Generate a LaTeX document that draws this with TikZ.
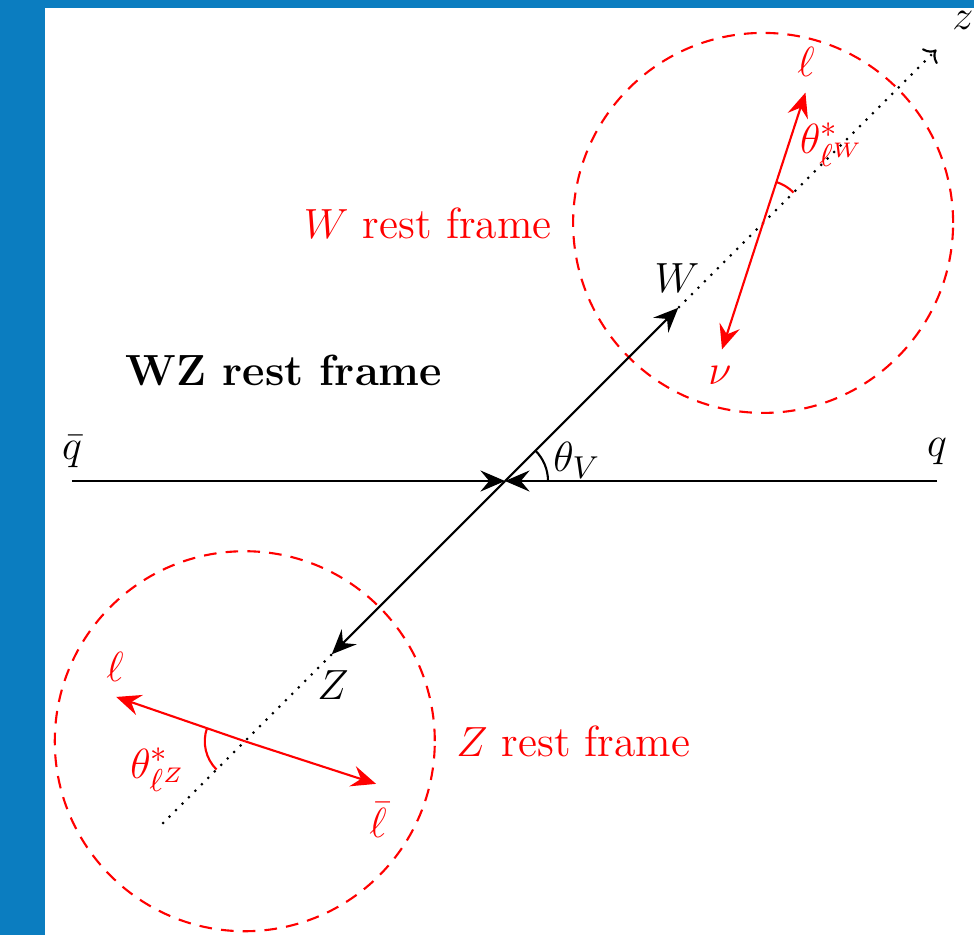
\documentclass[tikz,border=0pt]{standalone}
\usepackage{xcolor}
\definecolor{barblue}{HTML}{0B7DC0}
\definecolor{decayred}{HTML}{FF0000}
\usetikzlibrary{arrows.meta,positioning,calc}

\begin{document}
\begin{tikzpicture}[
  font=\fontsize{12.4}{15}\selectfont,
  beam/.style={-{Stealth[length=7pt,width=6pt,inset=2.5pt]}, black, semithick},
  zaxis/.style={->, black, semithick, dotted},
  restframe/.style={draw=decayred, semithick, dash pattern=on 3.6pt off 2.6pt, circle,
                    minimum size=3.8cm, inner sep=0pt},
  decay/.style={-{Stealth[length=7pt,width=6pt,inset=2.5pt]}, decayred, semithick},
  anglearc/.style={semithick},
  redlabel/.style={text=decayred}
]
  \useasboundingbox (-5.05,-4.54) rectangle (4.69,4.81);
  \fill[barblue] (-5.05,-4.54) rectangle (-4.60,4.81);
  \fill[barblue] (-5.05,4.73) rectangle (4.69,4.81);

  \coordinate (O)    at (0,0);
  \coordinate (qb)   at (-4.33,0);
  \coordinate (q)    at (4.32,0);
  \coordinate (Wtip) at (45:2.45);
  \coordinate (zend) at (45:6.1);
  \coordinate (Ztip) at (225:2.45);
  \coordinate (Zend) at (225:4.88);
  \coordinate (Wc)   at (45:3.65);
  \coordinate (Zc)   at (225:3.68);

  \node[restframe] (Wframe) at (Wc) {};
  \node[restframe] (Zframe) at (Zc) {};

  \draw[beam] (qb) -- (O);
  \draw[beam] (q) -- (O);
  \draw[beam] (O) -- (Wtip);
  \draw[beam] (O) -- (Ztip);
  \draw[zaxis] (Wtip) -- (zend);
  \draw[black, semithick, dotted] (Ztip) -- (Zend);
  \draw[anglearc] ([shift={(0:0.43)}]O) arc[start angle=0, end angle=45, radius=0.43];

  \coordinate (lW)  at ($(Wc)+(72:1.37)$);
  \coordinate (nuW) at ($(Wc)+(252:1.33)$);
  \coordinate (lZ)  at ($(Zc)+(161:1.36)$);
  \coordinate (lbZ) at ($(Zc)+(-18:1.38)$);
  \draw[decay] (Wc) -- (lW);
  \draw[decay] (Wc) -- (nuW);
  \draw[decay] (Zc) -- (lZ);
  \draw[decay] (Zc) -- (lbZ);
  \draw[decayred, semithick] ([shift={(45:0.43)}]Wc) arc[start angle=45, end angle=72, radius=0.43];
  \draw[decayred, semithick] ([shift={(161:0.4)}]Zc) arc[start angle=161, end angle=225, radius=0.4];

  \node (qbarlab) at (-4.33,0.29) {$\bar{q}$};
  \node (qlab)    at (4.32,0.29)  {$q$};
  \node (thV)     at (0.72,0.21)  {$\theta_V$};
  \node (Wlab)    at (1.72,2.03)  {$W$};
  \node (Zlab)    at (-1.72,-2.04) {$Z$};
  \node (zlab)    at (4.58,4.61)  {$z$};
  \node (wzframe) at (-2.21,1.11) {\textbf{WZ rest frame}};
  \node[redlabel, left=0.08cm of Wframe.west]  (wlabel) {$W$ rest frame};
  \node[redlabel, right=0.08cm of Zframe.east] (zlabel) {$Z$ rest frame};

  \node[redlabel] (lWlab)  at (3.01,4.19)   {$\ell$};
  \node[redlabel] (thW)    at (3.27,3.36)   {$\theta^*_{\ell^W}$};
  \node[redlabel] (nulab)  at (2.15,1.06)   {$\nu$};
  \node[redlabel] (lZlab)  at (-3.90,-1.86) {$\ell$};
  \node[redlabel] (thZ)    at (-3.47,-2.89) {$\theta^*_{\ell^Z}$};
  \node[redlabel] (lbZlab) at (-1.27,-3.39) {$\bar{\ell}$};
\end{tikzpicture}
\end{document}
